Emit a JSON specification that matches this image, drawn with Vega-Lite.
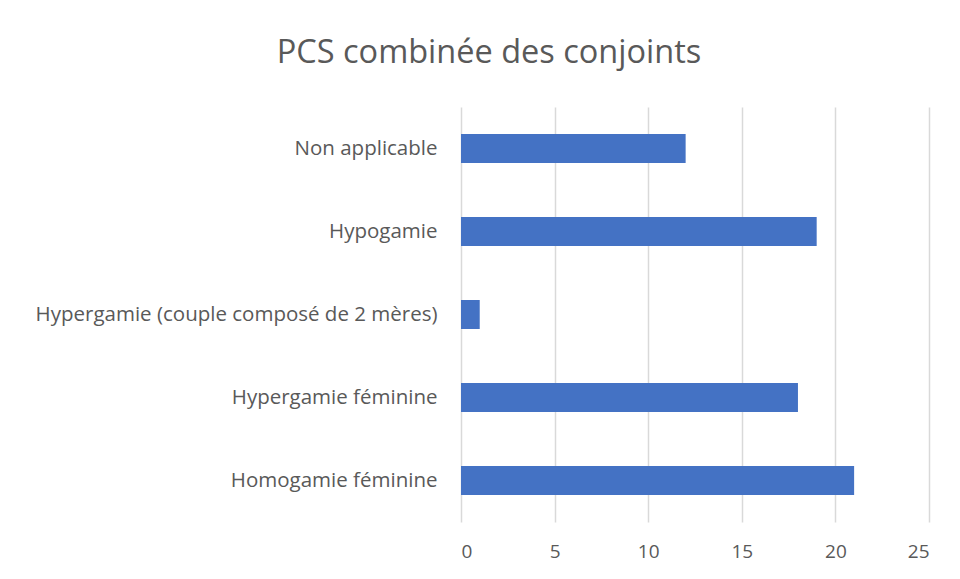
{
  "$schema": "https://vega.github.io/schema/vega-lite/v6.json",
  "autosize": "none",
  "width": 468,
  "height": 415,
  "padding": {"left": 461, "top": 107, "right": 31, "bottom": 57},
  "background": "white",
  "title": {
    "text": "PCS combinée des conjoints",
    "font": "Open Sans",
    "fontSize": 32.5,
    "fontWeight": "normal",
    "color": "#595959",
    "anchor": "middle",
    "frame": "group",
    "dx": -206,
    "offset": 38
  },
  "data": {
    "values": [
      {"categorie": "Non applicable", "valeur": 12},
      {"categorie": "Hypogamie", "valeur": 19},
      {"categorie": "Hypergamie (couple composé de 2 mères)", "valeur": 1},
      {"categorie": "Hypergamie féminine", "valeur": 18},
      {"categorie": "Homogamie féminine", "valeur": 21}
    ]
  },
  "mark": {"type": "bar", "color": "#4472C4"},
  "encoding": {
    "y": {
      "field": "categorie",
      "type": "nominal",
      "sort": null,
      "title": null,
      "scale": {"paddingInner": 0.65, "paddingOuter": 0.325},
      "axis": {
        "domain": false,
        "ticks": false,
        "labelPadding": 24,
        "labelFont": "Open Sans",
        "labelFontSize": 20.5,
        "labelColor": "#595959",
        "labelLimit": 600
      }
    },
    "x": {
      "field": "valeur",
      "type": "quantitative",
      "title": null,
      "scale": {"domain": [0, 25], "nice": false},
      "axis": {
        "values": [0, 5, 10, 15, 20, 25],
        "domain": false,
        "ticks": false,
        "grid": true,
        "gridColor": "#d9d9d9",
        "gridWidth": 1.5,
        "labelPadding": 20,
        "labelFont": "Open Sans",
        "labelFontSize": 19,
        "labelColor": "#595959"
      }
    }
  },
  "config": {"view": {"stroke": null}}
}
